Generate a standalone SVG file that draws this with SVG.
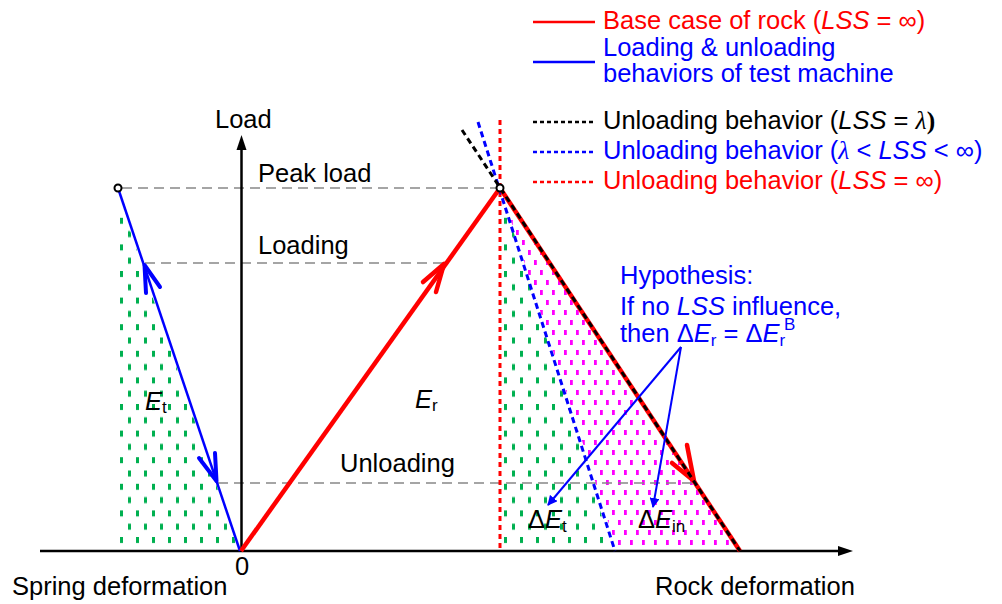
<svg xmlns="http://www.w3.org/2000/svg" width="1002" height="604" viewBox="0 0 1002 604">
<style>
text{font-family:"Liberation Sans",Arial,sans-serif;font-size:25.5px}
.it{font-style:italic}
.red{fill:#ff0000}.blue{fill:#0000ff}.blk{fill:#000}
.sub{font-size:17px}
.gd{stroke:#888;stroke-width:1.5;stroke-dasharray:10 6;fill:none}
</style>
<defs>
<pattern id="pg" patternUnits="userSpaceOnUse" x="120" y="537" width="16" height="26.6">
<rect x="0" y="0" width="3" height="6" fill="#00b050"/>
<rect x="8" y="13.3" width="3" height="6" fill="#00b050"/>
</pattern>
<pattern id="pm" patternUnits="userSpaceOnUse" x="618" y="540" width="12" height="20">
<rect x="0" y="0" width="2.8" height="5" fill="#ff00ff"/>
<rect x="6" y="10" width="2.8" height="5" fill="#ff00ff"/>
</pattern>
<marker id="ab" markerWidth="10" markerHeight="10" refX="9" refY="5" orient="auto" markerUnits="userSpaceOnUse" viewBox="0 0 10 10">
<path d="M0,0 L10,5 L0,10 z" fill="#0000ff"/>
</marker>
</defs>

<g id="hatching">
<polygon points="118,195 238,549 118,549" fill="url(#pg)"/>
<polygon points="503,198 612,549 503,549" fill="url(#pg)"/>
<polygon points="503,196 736,549 617,549" fill="url(#pm)"/>
</g>

<g id="guides">
<line class="gd" x1="122" y1="188" x2="496" y2="188"/>
<line class="gd" x1="145" y1="263" x2="445" y2="263"/>
<line class="gd" x1="218" y1="483" x2="695" y2="483"/>
</g>

<g id="axes">
<line x1="40" y1="551" x2="840" y2="551" stroke="#000" stroke-width="2.5"/>
<polygon points="838,546 853,551 838,556" fill="#000"/>
<line x1="241.5" y1="551" x2="241.5" y2="148" stroke="#000" stroke-width="2.5"/>
<polygon points="236.5,150 241.5,135 246.5,150" fill="#000"/>
</g>

<g id="connectors">
<line x1="500" y1="120" x2="500" y2="551" stroke="#ff0000" stroke-width="3" stroke-dasharray="5 4"/>
<line x1="478" y1="122" x2="615" y2="551" stroke="#0000ff" stroke-width="3" stroke-dasharray="6 4"/>
<line x1="118" y1="188" x2="240" y2="551" stroke="#0000ff" stroke-width="2.5"/>
<polyline points="146,293 144.5,265 160,287" fill="none" stroke="#0000ff" stroke-width="4" stroke-linecap="round" stroke-linejoin="round"/>
<polyline points="199,458 216.5,481 215,453" fill="none" stroke="#0000ff" stroke-width="4" stroke-linecap="round" stroke-linejoin="round"/>
<line x1="241" y1="551" x2="500" y2="188" stroke="#ff0000" stroke-width="4.5"/>
<polyline points="423,282 444,264 436,292" fill="none" stroke="#ff0000" stroke-width="4.5" stroke-linecap="round" stroke-linejoin="round"/>
<line x1="500" y1="188" x2="740" y2="551" stroke="#ff0000" stroke-width="4.5"/>
<polyline points="672,463 694,481 687,445" fill="none" stroke="#ff0000" stroke-width="4.5" stroke-linecap="round" stroke-linejoin="round"/>
<line x1="462" y1="130" x2="740" y2="551" stroke="#000" stroke-width="3" stroke-dasharray="6 4"/>
<line x1="681" y1="347" x2="548" y2="505" stroke="#0000ff" stroke-width="2" marker-end="url(#ab)"/>
<line x1="681" y1="347" x2="653" y2="507" stroke="#0000ff" stroke-width="2" marker-end="url(#ab)"/>
</g>

<g id="points">
<circle cx="118" cy="188" r="3.5" fill="#fff" stroke="#000" stroke-width="2"/>
<circle cx="500" cy="188" r="3.5" fill="#fff" stroke="#000" stroke-width="2"/>
</g>

<g id="labels">
<text x="215" y="128">Load</text>
<text x="258" y="182">Peak load</text>
<text x="258" y="254">Loading</text>
<text x="340" y="472">Unloading</text>
<text x="235" y="575">0</text>
<text x="12" y="595">Spring deformation</text>
<text x="655" y="595">Rock deformation</text>
<text x="145" y="410"><tspan class="it">E</tspan><tspan class="sub" dy="3">t</tspan></text>
<text x="415" y="408"><tspan class="it">E</tspan><tspan class="sub" dy="3">r</tspan></text>
<text x="528" y="528">Δ<tspan class="it">E</tspan><tspan class="sub" dy="4">t</tspan></text>
<text x="638" y="528">Δ<tspan class="it">E</tspan><tspan class="sub" dy="4">in</tspan></text>
</g>

<g id="hypothesis" class="blue">
<text x="620" y="284" class="blue">Hypothesis:</text>
<text x="620" y="315" class="blue">If no <tspan class="it">LSS</tspan> influence,</text>
<text x="620" y="342" class="blue">then Δ<tspan class="it">E</tspan><tspan class="sub" dy="4">r</tspan><tspan dy="-4"> = Δ</tspan><tspan class="it">E</tspan><tspan class="sub" dy="4">r</tspan></text>
<text x="784" y="330" class="blue sub">B</text>
</g>

<g id="legend">
<line x1="533" y1="22" x2="595" y2="22" stroke="#ff0000" stroke-width="2.5"/>
<text x="603" y="29" class="red">Base case of rock (<tspan class="it">LSS</tspan> = ∞)</text>
<line x1="533" y1="62" x2="595" y2="62" stroke="#0000ff" stroke-width="2.5"/>
<text x="603" y="56" class="blue">Loading &amp; unloading</text>
<text x="603" y="82" class="blue">behaviors of test machine</text>
<line x1="533" y1="122" x2="595" y2="122" stroke="#000" stroke-width="2.5" stroke-dasharray="4 3"/>
<text x="603" y="129" class="blk">Unloading behavior (<tspan class="it">LSS</tspan> = <tspan class="it" font-family="Liberation Serif">λ</tspan><tspan font-family="Liberation Serif" font-weight="bold">)</tspan></text>
<line x1="533" y1="152" x2="595" y2="152" stroke="#0000ff" stroke-width="2.5" stroke-dasharray="4 3"/>
<text x="603" y="159" class="blue">Unloading behavior (<tspan class="it" font-family="Liberation Serif">λ</tspan> &lt; <tspan class="it">LSS</tspan> &lt; ∞)</text>
<line x1="533" y1="182" x2="595" y2="182" stroke="#ff0000" stroke-width="2.5" stroke-dasharray="4 3"/>
<text x="603" y="189" class="red">Unloading behavior (<tspan class="it">LSS</tspan> = ∞)</text>
</g>
</svg>
